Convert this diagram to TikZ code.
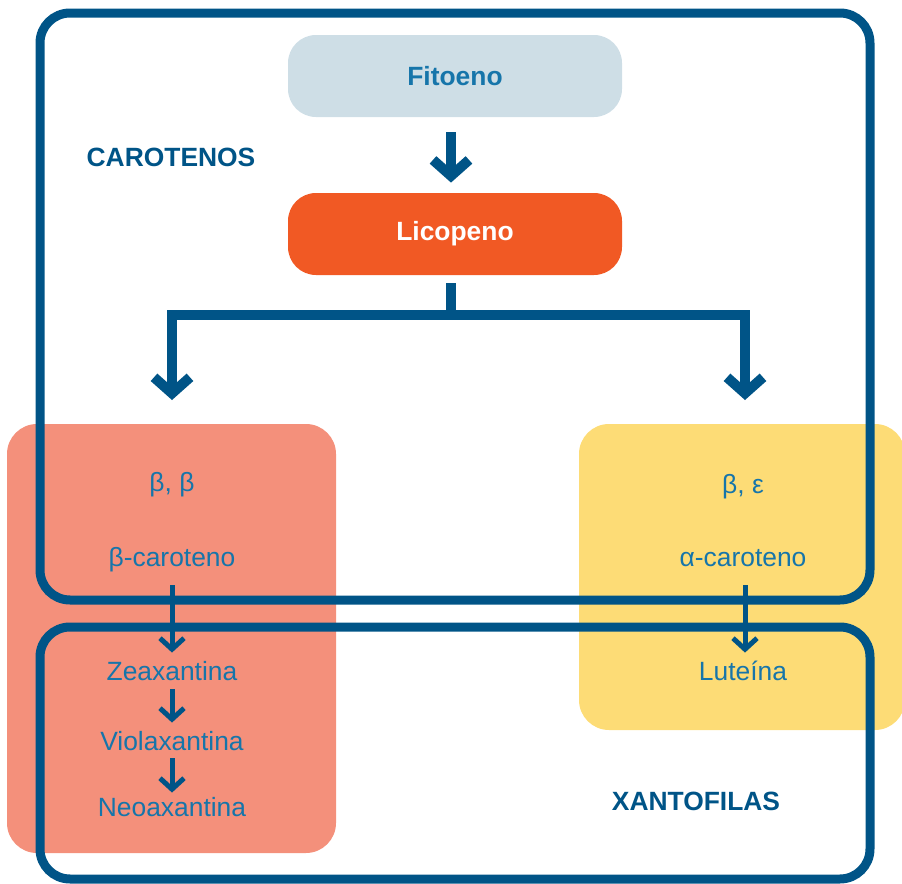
\documentclass[tikz,border=0pt]{standalone}
\usepackage{fontspec}
\setmainfont{Liberation Sans}
\usetikzlibrary{arrows.meta, positioning}
\definecolor{frameblue}{RGB}{0,84,135}
\definecolor{txtblue}{RGB}{22,117,170}
\definecolor{fitofill}{RGB}{206,222,230}
\definecolor{licofill}{RGB}{241,89,36}
\definecolor{salmon}{RGB}{244,144,123}
\definecolor{sunny}{RGB}{253,220,118}
\newcommand\diagfont{\fontsize{13.2}{15.8}\selectfont}
\tikzset{
  stepbox/.style={
    rectangle,
    rounded corners=14pt,
    minimum width=167pt,
    minimum height=41pt,
    inner sep=0pt,
    font=\diagfont\bfseries
  },
  pigment/.style={
    inner sep=0pt,
    text=txtblue,
    text height=9.75pt,
    text depth=3.25pt,
    font=\diagfont
  },
  grouplabel/.style={inner sep=0pt, text=frameblue, font=\diagfont\bfseries},
  groupframe/.style={draw=frameblue, line width=4.5pt, rounded corners=15pt},
  bigarrow/.style={draw=frameblue, line width=5pt, miter limit=4,
    -{Straight Barb[length=8pt,width=18pt]}},
  smallarrow/.style={draw=frameblue, line width=2.5pt,
    -{Straight Barb[length=5.5pt,width=12pt]}}
}

\begin{document}
\begin{tikzpicture}[x=0.5pt, y=-0.5pt]
  \useasboundingbox (0,0) rectangle (902,884);

  % coloured pathway panels
  \fill[salmon, rounded corners=15pt] (7,424) rectangle (336,853);
  \fill[sunny, rounded corners=15pt] (579,424) rectangle (905,730);

  % group frames
  \draw[groupframe] (40,13) rectangle (870,600);
  \draw[groupframe] (40,627) rectangle (870,879);
  \node[grouplabel] (carot) at (171,157) {CAROTENOS};
  \node[grouplabel] (xanto) at (696,801) {XANTOFILAS};

  % main chain
  \node[stepbox, fill=fitofill, text=txtblue] (fito) at (455,76) {Fitoeno};
  \node[stepbox, fill=licofill, text=white] (lico) at (455,234) {Licopeno};
  \coordinate (split) at (451,315);
  \coordinate (bbtop) at (172,400);
  \coordinate (betop) at (745,400);

  \node[pigment] (bb) at (172,485) {β, β};
  \node[pigment] (bcar) at (172,560) {β-caroteno};
  \node[pigment] (zea) at (172,674) {Zeaxantina};
  \node[pigment] (viola) at (172,744) {Violaxantina};
  \node[pigment] (neo) at (172,810) {Neoaxantina};

  \node[pigment] (be) at (743,487) {β, ε};
  \node[pigment] (acar) at (743,560) {α-caroteno};
  \node[pigment] (lute) at (743,674) {Luteína};

  \draw[bigarrow, shorten <=7.5pt, shorten >=5pt] ([xshift=-2pt]fito.south) -- ([xshift=-2pt]lico.north);
  \draw[draw=frameblue, line width=5pt, shorten <=4pt] ([xshift=-2pt]lico.south) -- (split);
  \draw[bigarrow] (split) -| (bbtop);
  \draw[bigarrow] (split) -| (betop);

  \draw[smallarrow, shorten <=6pt, shorten >=4pt] (bcar) -- (zea);
  \draw[smallarrow, shorten <=1pt, shorten >=4pt] (zea) -- (viola);
  \draw[smallarrow, shorten <=0.5pt, shorten >=2pt] (viola) -- (neo);
  \draw[smallarrow, shorten <=6pt, shorten >=4pt] ([xshift=1pt]acar.south) -- ([xshift=1pt]lute.north);
\end{tikzpicture}
\end{document}
